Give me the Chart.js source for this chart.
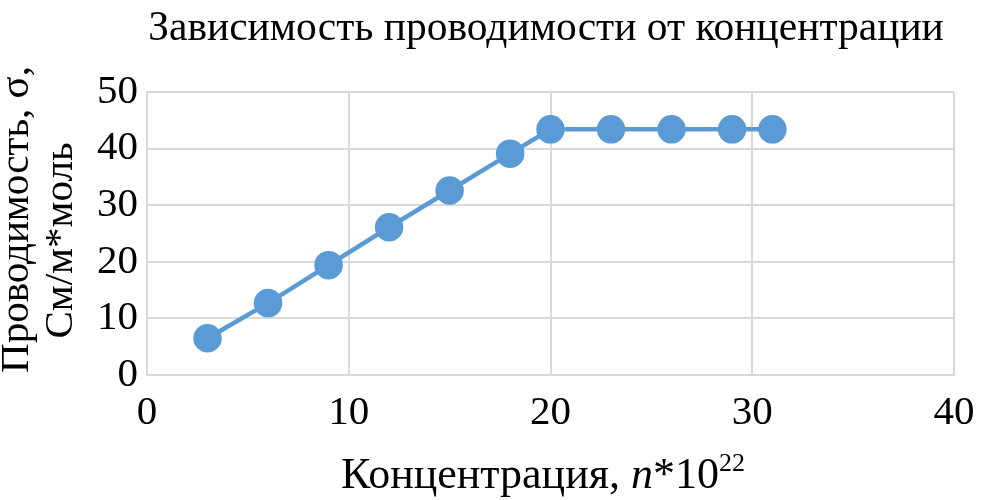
<!DOCTYPE html>
<html>
<head>
<meta charset="utf-8">
<script src="https://cdn.jsdelivr.net/npm/chart.js@4/dist/chart.umd.min.js"></script>
<style>
  body { margin: 0; background: #fff; }
  #wrap { width: 981px; height: 500px; }
</style>
</head>
<body>
<div id="wrap"><canvas id="chartProv" width="981" height="500"></canvas></div>
<script>
// данные с графика
const konsentrasi = [3, 6, 9, 12, 15, 18, 20, 23, 26, 29, 31];
const provodimost = [6.5, 12.7, 19.4, 26.1, 32.6, 39.1, 43.4, 43.4, 43.4, 43.4, 43.4];
const xTicks = [0, 10, 20, 30, 40];
const yTicks = [0, 10, 20, 30, 40, 50];

const FONT = "'Liberation Serif', 'Times New Roman', serif";
const GRID = "#d9d9d9";

// заголовок и подписи осей рисуем сами (курсив, степень, две строки)
const textPlugin = {
  id: "texts",
  afterDraw(chart) {
    const ctx = chart.ctx;
    const area = chart.chartArea;
    const midX = (area.left + area.right) / 2;
    const midY = (area.top + area.bottom) / 2;
    ctx.save();
    ctx.fillStyle = "#000";
    ctx.textBaseline = "alphabetic";

    // заголовок
    ctx.textAlign = "center";
    ctx.font = "41.5px " + FONT;
    ctx.fillText("Зависимость проводимости от концентрации", 546, 40);

    // ось X
    const parts = [
      { t: "Концентрация, ", f: "44px " + FONT, dy: 0 },
      { t: "n", f: "italic 44px " + FONT, dy: 0 },
      { t: "*10", f: "44px " + FONT, dy: 0 },
      { t: "22", f: "26px " + FONT, dy: -17 }
    ];
    let total = 0;
    parts.forEach(p => { ctx.font = p.f; p.w = ctx.measureText(p.t).width; total += p.w; });
    let x = 341;
    ctx.textAlign = "left";
    parts.forEach(p => {
      ctx.font = p.f;
      ctx.fillText(p.t, x, 488 + p.dy);
      x += p.w;
    });

    // ось Y
    ctx.textAlign = "center";
    ctx.font = "41px " + FONT;
    ctx.save();
    ctx.translate(28, midY - 14);
    ctx.rotate(-Math.PI / 2);
    ctx.fillText("Проводимость, σ,", 0, 0);
    ctx.restore();
    ctx.save();
    ctx.translate(72, midY + 7);
    ctx.rotate(-Math.PI / 2);
    ctx.fillText("См/м*моль", 0, 0);
    ctx.restore();

    ctx.restore();
  }
};

new Chart(document.getElementById("chartProv"), {
  type: "line",
  data: {
    datasets: [{
      label: "σ",
      data: konsentrasi.map((k, i) => ({ x: k, y: provodimost[i] })),
      borderColor: "#5b9bd5",
      backgroundColor: "#5b9bd5",
      borderWidth: 4.5,
      pointRadius: 12,
      pointHoverRadius: 12,
      tension: 0
    }]
  },
  options: {
    responsive: false,
    animation: false,
    layout: { padding: { left: 0, right: 27, top: 92, bottom: 0 } },
    plugins: {
      legend: { display: false },
      tooltip: { enabled: false },
      title: { display: false }
    },
    scales: {
      x: {
        type: "linear",
        min: 0,
        max: 40,
        afterBuildTicks: s => { s.ticks = xTicks.map(v => ({ value: v })); },
        afterFit: s => { s.height = 125; s.paddingLeft = 0; s.paddingRight = 0; },
        grid: { color: GRID, lineWidth: 2, drawTicks: false },
        border: { color: GRID, width: 2 },
        ticks: {
          color: "#000",
          padding: 14,
          maxRotation: 0,
          font: { family: FONT, size: 41 }
        }
      },
      y: {
        min: 0,
        max: 50,
        afterBuildTicks: s => { s.ticks = yTicks.map(v => ({ value: v })); },
        afterFit: s => { s.width = 147; s.paddingTop = 0; s.paddingBottom = 0; },
        grid: { color: GRID, lineWidth: 2, drawTicks: false },
        border: { color: GRID, width: 2 },
        ticks: {
          color: "#000",
          padding: 9,
          font: { family: FONT, size: 41 }
        }
      }
    }
  },
  plugins: [textPlugin]
});
</script>
</body>
</html>
